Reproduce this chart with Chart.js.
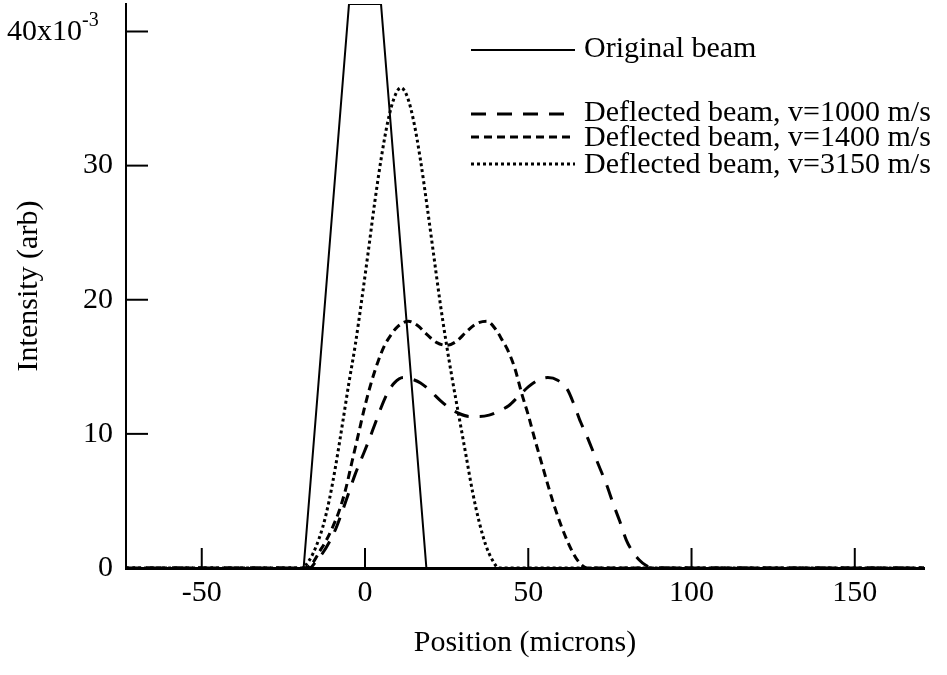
<!DOCTYPE html>
<html>
<head>
<meta charset="utf-8">
<script src="https://cdn.jsdelivr.net/npm/chart.js@4.4.1/dist/chart.umd.min.js"></script>
<style>
  html, body { margin: 0; padding: 0; background: #fff; }
  #wrap { width: 947px; height: 675px; }
</style>
</head>
<body>
<div id="wrap"><canvas id="beamChart"></canvas></div>
<script>
    // Data (position in microns, intensity in 1e-3 arb)
    const seriesLabels = ['Original beam', 'Deflected beam, v=1000 m/s', 'Deflected beam, v=1400 m/s', 'Deflected beam, v=3150 m/s'];

    const originalX = [-75, -18.8, -4.9, 4.9, 18.8, 175];
    const originalY = [0, 0, 42.05, 42.05, 0, 0];

    const v1000X = [-75, -17, -15, -13, -11, -9, -7, -5, -3, -1, 1, 3, 5, 7, 9, 11.7, 14, 17, 20, 23, 26, 29, 32, 35, 38, 41, 44, 47, 50, 53, 56, 59, 62, 64, 66, 68, 70, 72, 74, 76, 78, 80, 82, 84, 86, 88, 175];
    const v1000Y = [0, 0, 0.5, 1.1, 1.9, 2.9, 4.2, 5.6, 7.0, 8.2, 9.4, 10.7, 12.0, 13.1, 13.8, 14.2, 14.1, 13.8, 13.2, 12.5, 11.9, 11.5, 11.3, 11.3, 11.4, 11.7, 12.1, 12.8, 13.5, 14.0, 14.2, 14.0, 13.3, 12.2, 10.9, 9.8, 8.6, 7.4, 6.2, 4.8, 3.5, 2.1, 1.2, 0.6, 0.2, 0, 0];

    const v1400X = [-75, -18.5, -16, -14, -12, -10, -8, -6, -4, -2, 0, 2, 4, 6, 8, 10, 13.3, 16, 19, 22, 25, 28, 31, 34, 37.3, 40, 42, 44, 46, 48, 50, 52, 54, 56, 58, 60, 62, 64, 66, 68, 175];
    const v1400Y = [0, 0, 0.4, 1.2, 2.0, 3.0, 4.2, 5.8, 7.9, 10.0, 12.1, 13.9, 15.4, 16.6, 17.4, 18.0, 18.4, 18.1, 17.4, 16.8, 16.6, 16.9, 17.6, 18.2, 18.4, 17.8, 17.0, 16.1, 14.8, 13.0, 11.4, 9.6, 7.9, 6.2, 4.6, 3.2, 2.0, 1.0, 0.3, 0, 0];

    const v3150X = [-75, -19.5, -17, -15, -13, -11, -9, -7, -5, -3, -1, 1, 3, 5, 7, 9, 11, 13, 15, 17, 19, 21, 23, 25, 27, 29, 31, 33, 35, 37, 39, 41, 175];
    const v3150Y = [0, 0, 0.6, 1.6, 3.0, 5.0, 7.6, 10.6, 13.7, 16.6, 20.0, 23.6, 27.3, 30.6, 33.3, 35.1, 35.8, 35.1, 33.2, 30.4, 27.0, 23.4, 19.8, 16.6, 13.7, 11.0, 8.3, 5.6, 3.4, 1.7, 0.6, 0, 0];

    const xTicks = [-50, 0, 50, 100, 150];
    const yTicks = [0, 10, 20, 30, 40];

    const FONT = '"Liberation Serif", "Times New Roman", serif';

    function toPoints(xs, ys) {
      return xs.map((x, i) => ({ x: x, y: ys[i] }));
    }

    // Inward ticks, y tick labels (40 gets the x10^-3 exponent) and the line-sample legend
    const decorPlugin = {
      id: 'decor',
      afterDraw(chart) {
        const ctx = chart.ctx;
        const xs = chart.scales.x;
        const ys = chart.scales.y;
        const area = chart.chartArea;
        ctx.save();
        ctx.strokeStyle = '#000';
        ctx.fillStyle = '#000';
        ctx.lineWidth = 2;
        ctx.setLineDash([]);
        xTicks.forEach(v => {
          const px = xs.getPixelForValue(v);
          ctx.beginPath();
          ctx.moveTo(px, area.bottom);
          ctx.lineTo(px, area.bottom - 20);
          ctx.stroke();
        });
        ctx.font = '30px ' + FONT;
        yTicks.forEach(v => {
          const py = ys.getPixelForValue(v);
          ctx.beginPath();
          ctx.moveTo(area.left, py);
          ctx.lineTo(area.left + 22, py);
          ctx.stroke();
          if (v !== 40) {
            ctx.textAlign = 'right';
            ctx.textBaseline = 'middle';
            ctx.fillText(String(v), area.left - 13, py);
          }
        });

        // top tick label with exponent
        const topY = ys.getPixelForValue(40);
        ctx.textBaseline = 'alphabetic';
        ctx.textAlign = 'right';
        ctx.font = '30px ' + FONT;
        ctx.fillText('40x10', 82, topY + 9);
        ctx.textAlign = 'left';
        ctx.font = '20px ' + FONT;
        ctx.fillText('-3', 82, topY - 5);

        // legend
        const lineYs = [50, 114, 137, 164];
        const textYs = [57, 121, 146, 173];
        ctx.font = '30px ' + FONT;
        chart.data.datasets.forEach((ds, i) => {
          ctx.beginPath();
          ctx.lineWidth = ds.borderWidth;
          ctx.setLineDash(ds.borderDash || []);
          ctx.moveTo(471, lineYs[i]);
          ctx.lineTo(575, lineYs[i]);
          ctx.stroke();
          ctx.setLineDash([]);
          ctx.fillText(ds.label, 584, textYs[i]);
        });
        ctx.restore();
      }
    };

    const ctx = document.getElementById('beamChart').getContext('2d');
    const beamChart = new Chart(ctx, {
      type: 'line',
      data: {
        datasets: [
          {
            label: seriesLabels[0],
            data: toPoints(originalX, originalY),
            borderColor: '#000',
            borderWidth: 2,
            tension: 0
          },
          {
            label: seriesLabels[1],
            data: toPoints(v1000X, v1000Y),
            borderColor: '#000',
            borderWidth: 3,
            borderDash: [15, 11],
            cubicInterpolationMode: 'monotone'
          },
          {
            label: seriesLabels[2],
            data: toPoints(v1400X, v1400Y),
            borderColor: '#000',
            borderWidth: 3,
            borderDash: [8, 5],
            cubicInterpolationMode: 'monotone'
          },
          {
            label: seriesLabels[3],
            data: toPoints(v3150X, v3150Y),
            borderColor: '#000',
            borderWidth: 3,
            borderDash: [3, 3],
            cubicInterpolationMode: 'monotone'
          }
        ]
      },
      options: {
        responsive: true,
        maintainAspectRatio: false,
        animation: false,
        elements: { point: { radius: 0 } },
        layout: { padding: { top: 4, right: 23, left: 0, bottom: 0 } },
        plugins: {
          legend: { display: false },
          tooltip: { enabled: false }
        },
        scales: {
          x: {
            type: 'linear',
            min: -73.2,
            max: 171.2,
            afterFit: s => { s.height = 107; },
            afterBuildTicks: s => { s.ticks = xTicks.map(v => ({ value: v })); },
            grid: { display: false, drawTicks: false },
            border: { display: true, color: '#000', width: 3 },
            ticks: {
              color: '#000',
              padding: 7,
              maxRotation: 0,
              font: { family: FONT, size: 30 }
            },
            title: {
              display: true,
              text: 'Position (microns)',
              color: '#000',
              padding: { top: 0, bottom: 14 },
              font: { family: FONT, size: 30 }
            }
          },
          y: {
            min: 0,
            max: 42.05,
            afterFit: s => { s.width = 126; },
            afterBuildTicks: s => { s.ticks = yTicks.map(v => ({ value: v })); },
            grid: { display: false, drawTicks: false },
            border: { display: true, color: '#000', width: 2 },
            ticks: { display: false },
            title: {
              display: true,
              text: 'Intensity (arb)',
              color: '#000',
              padding: { top: 11, bottom: 0 },
              font: { family: FONT, size: 30 }
            }
          }
        }
      },
      plugins: [decorPlugin]
    });
</script>
</body>
</html>
